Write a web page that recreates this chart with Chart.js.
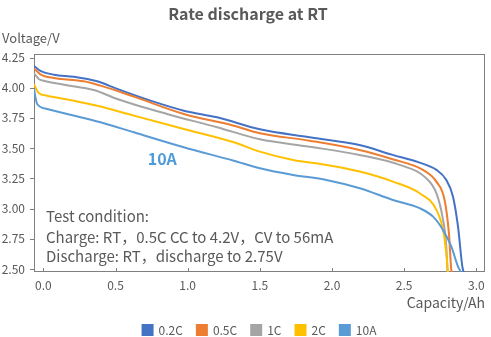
<!DOCTYPE html>
<html>
<head>
<meta charset="utf-8">
<title>Rate discharge at RT</title>
<script src="https://cdn.jsdelivr.net/npm/chart.js@4/dist/chart.umd.min.js"></script>
<style>
    html, body { margin: 0; padding: 0; background: #fff; }
    #wrap { width: 491px; height: 337px; }
</style>
</head>
<body>
<div id="wrap"><canvas id="dischargeChart" width="491" height="337"></canvas></div>
<script>
// Discharge curves: capacity (Ah) vs. voltage (V) for each rate
const seriesNames = ['0.2C', '0.5C', '1C', '2C', '10A'];
const seriesColors = ['#4472C4', '#ED7D31', '#A5A5A5', '#FFC000', '#5B9BD5'];

const cap02 = [-0.065, -0.02, 0.073, 0.211, 0.373, 0.511, 0.742, 0.973, 1.204, 1.5, 1.844, 2.19, 2.42, 2.607, 2.723, 2.792, 2.838, 2.873, 2.903, 2.912];
const volt02 = [4.18, 4.14, 4.108, 4.091, 4.053, 3.99, 3.893, 3.81, 3.755, 3.656, 3.59, 3.526, 3.444, 3.38, 3.32, 3.237, 3.10, 2.85, 2.52, 2.475];

const cap05 = [-0.065, -0.02, 0.073, 0.28, 0.396, 0.627, 0.973, 1.319, 1.5, 1.844, 2.19, 2.42, 2.63, 2.723, 2.78, 2.81, 2.827, 2.832];
const volt05 = [4.16, 4.11, 4.08, 4.053, 4.017, 3.926, 3.783, 3.686, 3.623, 3.562, 3.485, 3.408, 3.32, 3.223, 3.071, 2.796, 2.49, 2.475];

const cap1 = [-0.065, -0.03, 0.003, 0.142, 0.35, 0.511, 0.857, 1.204, 1.5, 1.844, 2.19, 2.469, 2.654, 2.723, 2.765, 2.792, 2.8];
const volt1 = [4.12, 4.07, 4.058, 4.025, 3.981, 3.907, 3.783, 3.673, 3.573, 3.512, 3.444, 3.361, 3.25, 3.127, 2.933, 2.685, 2.475];

const cap2 = [-0.065, -0.05, -0.03, 0.026, 0.211, 0.373, 0.627, 0.973, 1.319, 1.5, 1.73, 1.961, 2.192, 2.422, 2.607, 2.723, 2.774, 2.796, 2.803];
const volt2 = [4.03, 3.99, 3.954, 3.934, 3.893, 3.851, 3.769, 3.659, 3.549, 3.471, 3.402, 3.361, 3.306, 3.223, 3.127, 2.989, 2.796, 2.575, 2.475];

const cap10A = [-0.065, -0.055, -0.043, 0.026, 0.165, 0.396, 0.627, 0.973, 1.319, 1.5, 1.73, 1.961, 2.192, 2.422, 2.607, 2.7, 2.769, 2.827, 2.873, 2.893];
const volt10A = [3.995, 3.92, 3.865, 3.824, 3.783, 3.714, 3.631, 3.507, 3.396, 3.333, 3.278, 3.237, 3.168, 3.071, 3.003, 2.933, 2.823, 2.685, 2.52, 2.475];

const xTicks = [0, 0.5, 1.0, 1.5, 2.0, 2.5, 3.0];
const yTicks = [2.5, 2.75, 3.0, 3.25, 3.5, 3.75, 4.0, 4.25];

const chartTitle = 'Rate discharge at RT';
const conditionLines = [
    'Test condition:',
    'Charge: RT，0.5C CC to 4.2V，CV to 56mA',
    'Discharge: RT，discharge to 2.75V'
];

const FONT = '"Noto Sans CJK SC", "Noto Sans", sans-serif';
const TEXT_GREY = '#595959';

document.addEventListener('DOMContentLoaded', function() {
    drawChart();
});

function toPoints(xs, ys) {
    return xs.map((x, i) => ({ x: x, y: ys[i] }));
}

// Plot frame plus short tick marks (outward on the voltage axis, inward on capacity)
const framePlugin = {
    id: 'frame',
    beforeDatasetsDraw(chart) {
        const { ctx, chartArea: a, scales: { x, y } } = chart;
        ctx.save();
        ctx.strokeStyle = '#7f7f7f';
        ctx.lineWidth = 1;
        ctx.strokeRect(Math.round(a.left) + 0.5, Math.round(a.top) + 0.5,
            Math.round(a.width) - 1, Math.round(a.height) - 1);
        ctx.beginPath();
        y.ticks.forEach(t => {
            const py = Math.round(y.getPixelForValue(t.value)) + 0.5;
            ctx.moveTo(a.left - 4, py);
            ctx.lineTo(a.left + 1, py);
        });
        x.ticks.forEach(t => {
            const px = Math.round(x.getPixelForValue(t.value)) + 0.5;
            ctx.moveTo(px, a.bottom);
            ctx.lineTo(px, a.bottom - 4);
        });
        ctx.stroke();
        ctx.restore();
    }
};

// Title, axis caption, series tag and the test condition notes
const notesPlugin = {
    id: 'notes',
    afterDatasetsDraw(chart) {
        const { ctx, scales: { x, y } } = chart;
        ctx.save();
        ctx.textBaseline = 'middle';

        ctx.fillStyle = TEXT_GREY;
        ctx.font = 'bold 16px ' + FONT;
        ctx.textAlign = 'center';
        ctx.fillText(chartTitle, 248, 14);

        ctx.font = '13px ' + FONT;
        ctx.textAlign = 'left';
        ctx.fillText('Voltage/V', 2, 38);

        ctx.fillStyle = '#4F9AD8';
        ctx.font = 'bold 16px ' + FONT;
        ctx.textAlign = 'center';
        ctx.fillText('10A', x.getPixelForValue(0.824), y.getPixelForValue(3.408));

        ctx.fillStyle = TEXT_GREY;
        ctx.font = '15px ' + FONT;
        ctx.textAlign = 'left';
        const rows = [216.7, 237.3, 256];
        conditionLines.forEach((line, i) => ctx.fillText(line, 46, rows[i]));
        ctx.restore();
    }
};

function drawChart() {
    const ctx = document.getElementById('dischargeChart').getContext('2d');
    const pairs = [[cap02, volt02], [cap05, volt05], [cap1, volt1], [cap2, volt2], [cap10A, volt10A]];

    new Chart(ctx, {
        type: 'scatter',
        data: {
            datasets: pairs.map((p, i) => ({
                label: seriesNames[i],
                data: toPoints(p[0], p[1]),
                showLine: true,
                borderColor: seriesColors[i],
                backgroundColor: seriesColors[i],
                borderWidth: 2,
                pointRadius: 0,
                cubicInterpolationMode: 'monotone',
                order: pairs.length - i
            }))
        },
        options: {
            responsive: false,
            animation: false,
            layout: { padding: { left: 0, right: 6, top: 54, bottom: 0 } },
            plugins: {
                title: { display: false },
                legend: {
                    position: 'bottom',
                    fullSize: false,
                    maxHeight: 27,
                    labels: {
                        boxWidth: 10,
                        boxHeight: 10,
                        padding: 14,
                        color: TEXT_GREY,
                        font: { family: FONT, size: 12 },
                        sort: (a, b) => a.datasetIndex - b.datasetIndex
                    }
                },
                tooltip: { enabled: false }
            },
            scales: {
                x: {
                    type: 'linear',
                    min: -0.065,
                    max: 3.06,
                    afterBuildTicks: axis => { axis.ticks = xTicks.map(v => ({ value: v })); },
                    afterFit: axis => { axis.height = 38; },
                    grid: { display: false, drawTicks: false },
                    border: { display: false },
                    ticks: {
                        padding: 6,
                        color: TEXT_GREY,
                        font: { family: FONT, size: 12 },
                        callback: v => v.toFixed(1)
                    },
                    title: {
                        display: true,
                        text: 'Capacity/Ah',
                        align: 'end',
                        color: TEXT_GREY,
                        font: { family: FONT, size: 14 },
                        padding: { top: 2, bottom: -1.5 }
                    }
                },
                y: {
                    type: 'linear',
                    min: 2.475,
                    max: 4.279,
                    afterBuildTicks: axis => { axis.ticks = yTicks.map(v => ({ value: v })); },
                    afterFit: axis => { axis.width = 34; },
                    grid: { display: false, drawTicks: false },
                    border: { display: false },
                    ticks: {
                        padding: 9,
                        color: TEXT_GREY,
                        font: { family: FONT, size: 12 },
                        callback: v => v.toFixed(2)
                    }
                }
            }
        },
        plugins: [framePlugin, notesPlugin]
    });
}
</script>
</body>
</html>
